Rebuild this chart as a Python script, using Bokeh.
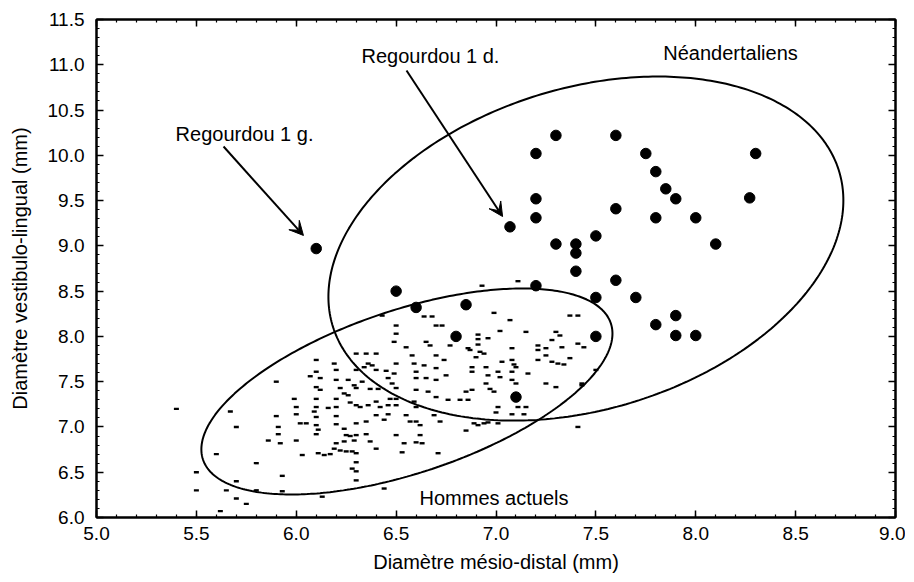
import numpy as np
from bokeh.plotting import figure
from bokeh.models import (Range1d, LinearAxis, SingleIntervalTicker, PrintfTickFormatter,
                          Label, Arrow, VeeHead)
from bokeh.embed import file_html
from bokeh.resources import INLINE

# ---------------- data ----------------
# Neanderthals (large dots): mesio-distal (x), vestibulo-lingual (y)
nean_x = [6.1, 7.07, 6.5, 6.6, 6.85, 6.8, 7.1, 7.2, 7.3, 7.6, 7.75, 8.3, 7.8, 7.85, 7.9,
          7.2, 8.27, 7.6, 7.2, 7.8, 8.0, 7.5, 7.3, 7.4, 7.4, 8.1, 7.4, 7.6, 7.2, 7.5,
          7.7, 7.9, 7.8, 7.9, 8.0, 7.5]
nean_y = [8.97, 9.21, 8.5, 8.32, 8.35, 8.0, 7.33, 10.02, 10.22, 10.22, 10.02, 10.02, 9.82, 9.63, 9.52,
          9.52, 9.53, 9.41, 9.31, 9.31, 9.31, 9.11, 9.02, 9.02, 8.92, 9.02, 8.72, 8.62, 8.56, 8.43,
          8.43, 8.23, 8.13, 8.01, 8.01, 8.0]

# Modern humans (small dashes)
mod_x = [5.4, 5.5, 5.5, 5.6, 5.62, 5.65, 5.67, 5.7, 5.7, 5.7, 5.75, 5.8, 5.8, 5.86, 5.9, 5.9,
         5.91, 5.91, 5.92, 5.93, 5.93, 5.99, 6.0, 6.0, 6.0, 6.02, 6.03, 6.05, 6.07, 6.09, 6.1,
         6.1, 6.1, 6.1, 6.1, 6.1, 6.1, 6.1, 6.11, 6.12, 6.12, 6.13, 6.14, 6.16, 6.17, 6.19,
         6.2, 6.2, 6.2, 6.2, 6.2, 6.2, 6.22, 6.22, 6.24, 6.24, 6.25, 6.2, 6.24, 6.26, 6.26,
         6.27, 6.28, 6.28, 6.29, 6.29, 6.3, 6.3, 6.3, 6.3, 6.3, 6.3, 6.3, 6.3, 6.3, 6.3,
         6.32, 6.33, 6.34, 6.35, 6.35, 6.35, 6.36, 6.36, 6.37, 6.37, 6.38, 6.4, 6.4, 6.4,
         6.4, 6.4, 6.41, 6.42, 6.43, 6.44, 6.44, 6.45, 6.46, 6.46, 6.46, 6.47, 6.48, 6.49,
         6.49, 6.5, 6.5, 6.5, 6.5, 6.5, 6.5, 6.5, 6.53, 6.54, 6.55, 6.55, 6.57, 6.58, 6.59,
         6.59, 6.6, 6.6, 6.6, 6.6, 6.6, 6.62, 6.62, 6.63, 6.64, 6.65, 6.64, 6.65, 6.66, 6.67,
         6.69, 6.7, 6.7, 6.7, 6.7, 6.7, 6.71, 6.72, 6.73, 6.74, 6.75, 6.76, 6.77,
         6.11, 6.19, 6.27, 6.25, 6.68,
         6.93, 6.99, 7.07, 7.11, 7.02, 6.91, 6.91, 6.96, 6.86, 6.91, 6.94, 6.9, 6.88, 6.88,
         6.95, 6.96, 7.01, 7.03, 7.08, 7.15, 7.21, 7.21, 7.25, 7.3, 7.32, 7.28, 7.25, 7.28,
         7.31, 7.34, 7.37, 7.33, 7.37, 7.41, 7.41, 7.44, 7.21, 7.08, 7.1, 7.02, 7.08, 7.16,
         6.97, 6.88, 6.85, 6.99, 7.25, 7.3, 7.08, 7.1, 7.01, 7.11, 7.15, 7.08, 7.0, 6.91,
         6.89, 6.85, 7.01, 6.96, 6.94, 7.41, 7.43, 7.5, 6.87, 6.92, 7.09, 6.95, 6.86, 6.82,
         7.14, 7.43, 6.6]
mod_y = [7.2, 6.5, 6.3, 6.7, 6.07, 6.3, 7.17, 7.0, 6.4, 6.21, 6.15, 6.6, 6.3, 6.85, 7.5, 7.12,
         6.92, 7.0, 6.82, 6.46, 6.29, 7.31, 7.22, 7.14, 6.85, 7.04, 6.69, 7.04, 7.56, 7.17, 7.74,
         7.61, 7.44, 7.31, 7.22, 7.11, 7.02, 6.92, 6.71, 7.54, 7.41, 6.23, 6.69, 7.21, 6.7, 7.7,
         7.63, 7.52, 7.31, 7.22, 7.12, 7.03, 6.74, 7.43, 7.37, 6.98, 6.91, 6.82, 6.84, 7.52, 7.35,
         7.27, 6.73, 6.54, 7.46, 6.85, 7.81, 7.63, 7.43, 7.24, 7.04, 6.91, 6.71, 6.61, 6.51, 6.41,
         7.22, 7.5, 7.66, 7.06, 7.81, 6.92, 7.7, 7.24, 6.84, 7.42, 7.68, 7.63, 7.81, 7.28,
         7.13, 6.76, 7.42, 7.22, 8.23, 7.08, 6.32, 7.62, 7.14, 7.54, 7.24, 7.31, 7.48, 7.94,
         7.59, 8.12, 8.03, 7.7, 7.43, 7.31, 7.24, 6.91, 6.72, 6.82, 7.88, 7.13, 7.06, 7.79, 7.7,
         7.28, 7.61, 7.54, 7.41, 7.22, 7.06, 7.02, 6.91, 6.82, 8.22, 7.94, 7.68, 7.54, 7.39, 7.9,
         7.13, 8.12, 7.79, 7.65, 7.52, 7.33, 6.71, 7.06, 8.12, 7.74, 7.57, 7.3, 7.9,
         6.97, 6.76, 6.9, 6.73, 8.22,
         8.56, 8.26, 8.18, 8.61, 8.06, 8.02, 7.97, 7.98, 7.87, 7.91, 7.81, 7.77, 7.66, 7.61,
         7.66, 7.57, 7.61, 7.72, 7.87, 8.05, 7.9, 7.85, 7.87, 8.05, 8.01, 7.96, 7.79, 7.72,
         7.7, 7.69, 7.76, 7.88, 8.23, 8.23, 7.92, 7.88, 7.74, 7.74, 7.66, 7.55, 7.61, 7.59,
         7.42, 7.41, 7.39, 7.39, 7.48, 7.44, 7.52, 7.48, 7.22, 7.22, 7.22, 7.14, 7.16, 7.02,
         7.04, 6.96, 7.04, 7.05, 7.04, 7.0, 7.48, 7.63, 7.85, 7.83, 7.69, 7.48, 7.3, 7.3,
         7.14, 7.46, 6.83]

# Group ellipses: centre x, centre y, x half-extent, y half-extent, correlation
ell_groups = ["Néandertaliens", "Hommes actuels"]
ell_cx = [7.45, 6.554]
ell_cy = [8.97, 7.392]
ell_xr = [1.289, 1.029]
ell_yr = [1.90, 1.1375]
ell_rho = [0.28, 0.562]

x_ticks = [5.0, 5.5, 6.0, 6.5, 7.0, 7.5, 8.0, 8.5, 9.0]
y_ticks = [6.0, 6.5, 7.0, 7.5, 8.0, 8.5, 9.0, 9.5, 10.0, 10.5, 11.0, 11.5]

FONT = "Liberation Sans"

p = figure(frame_width=799, frame_height=498,
           x_range=Range1d(x_ticks[0], x_ticks[-1]), y_range=Range1d(y_ticks[0], y_ticks[-1]),
           output_backend="svg", toolbar_location=None,
           min_border_left=96, min_border_right=10, min_border_top=19, min_border_bottom=5,
           x_axis_label="Diamètre mésio-distal (mm)",
           y_axis_label="Diamètre vestibulo-lingual (mm)")
p.background_fill_color = "white"
p.border_fill_color = "white"
p.outline_line_color = "black"
p.outline_line_width = 2
p.xgrid.visible = False
p.ygrid.visible = False


def style_axis(ax, labels=True):
    ax.axis_line_color = "black"
    ax.axis_line_width = 2
    ax.major_tick_in = 7
    ax.major_tick_out = 0
    ax.minor_tick_in = 3
    ax.minor_tick_out = 0
    ax.major_tick_line_color = "black"
    ax.major_tick_line_width = 1.5
    ax.minor_tick_line_color = "black"
    ax.minor_tick_line_width = 1.2
    if labels:
        ax.major_label_text_font = FONT
        ax.major_label_text_font_size = "19px"
        ax.major_label_text_color = "black"
        ax.axis_label_text_font = FONT
        ax.axis_label_text_font_size = "20px"
        ax.axis_label_text_font_style = "normal"
        ax.axis_label_text_color = "black"
        ax.formatter = PrintfTickFormatter(format="%.1f")
    else:
        ax.major_label_text_font_size = "0px"
        ax.major_label_text_color = None
        ax.major_label_standoff = 0
        ax.axis_label = None


p.xaxis.ticker = SingleIntervalTicker(interval=0.5, num_minor_ticks=5)
p.yaxis.ticker = SingleIntervalTicker(interval=0.5, num_minor_ticks=5)
style_axis(p.xaxis[0])
style_axis(p.yaxis[0])
p.xaxis.major_label_standoff = 9
p.xaxis.axis_label_standoff = 8
p.yaxis.major_label_standoff = 12
p.yaxis.axis_label_standoff = 14

top_ax = LinearAxis(ticker=SingleIntervalTicker(interval=0.5, num_minor_ticks=5))
right_ax = LinearAxis(ticker=SingleIntervalTicker(interval=0.5, num_minor_ticks=5))
style_axis(top_ax, labels=False)
style_axis(right_ax, labels=False)
p.add_layout(top_ax, "above")
p.add_layout(right_ax, "right")

# ellipses
t = np.linspace(0, 2 * np.pi, 361)
for cx, cy, xr, yr, rho in zip(ell_cx, ell_cy, ell_xr, ell_yr, ell_rho):
    ex = cx + xr * np.cos(t)
    ey = cy + yr * (rho * np.cos(t) + np.sqrt(1 - rho ** 2) * np.sin(t))
    p.line(ex, ey, line_color="black", line_width=2)

# modern humans
p.scatter(x=mod_x, y=mod_y, marker="dash", size=5, line_color="black", line_width=2.4)
# Neanderthals
p.scatter(x=nean_x, y=nean_y, marker="circle", size=10.5, fill_color="black", line_color="black")


def add_label(x, y, text):
    p.add_layout(Label(x=x, y=y, text=text, text_align="center", text_baseline="middle",
                       text_font=FONT, text_font_size="20px", text_color="black"))


add_label(5.741, 10.24, "Regourdou 1 g.")
add_label(6.672, 11.10, "Regourdou 1 d.")
add_label(8.174, 11.125, ell_groups[0])
add_label(6.99, 6.22, ell_groups[1])

p.add_layout(Arrow(end=VeeHead(size=14, fill_color="black", line_color="black"),
                   x_start=5.636, y_start=10.097, x_end=6.036, y_end=9.115,
                   line_color="black", line_width=2))
p.add_layout(Arrow(end=VeeHead(size=14, fill_color="black", line_color="black"),
                   x_start=6.552, y_start=10.937, x_end=7.033, y_end=9.324,
                   line_color="black", line_width=2))

open("out.html", "w").write(file_html(p, INLINE))
